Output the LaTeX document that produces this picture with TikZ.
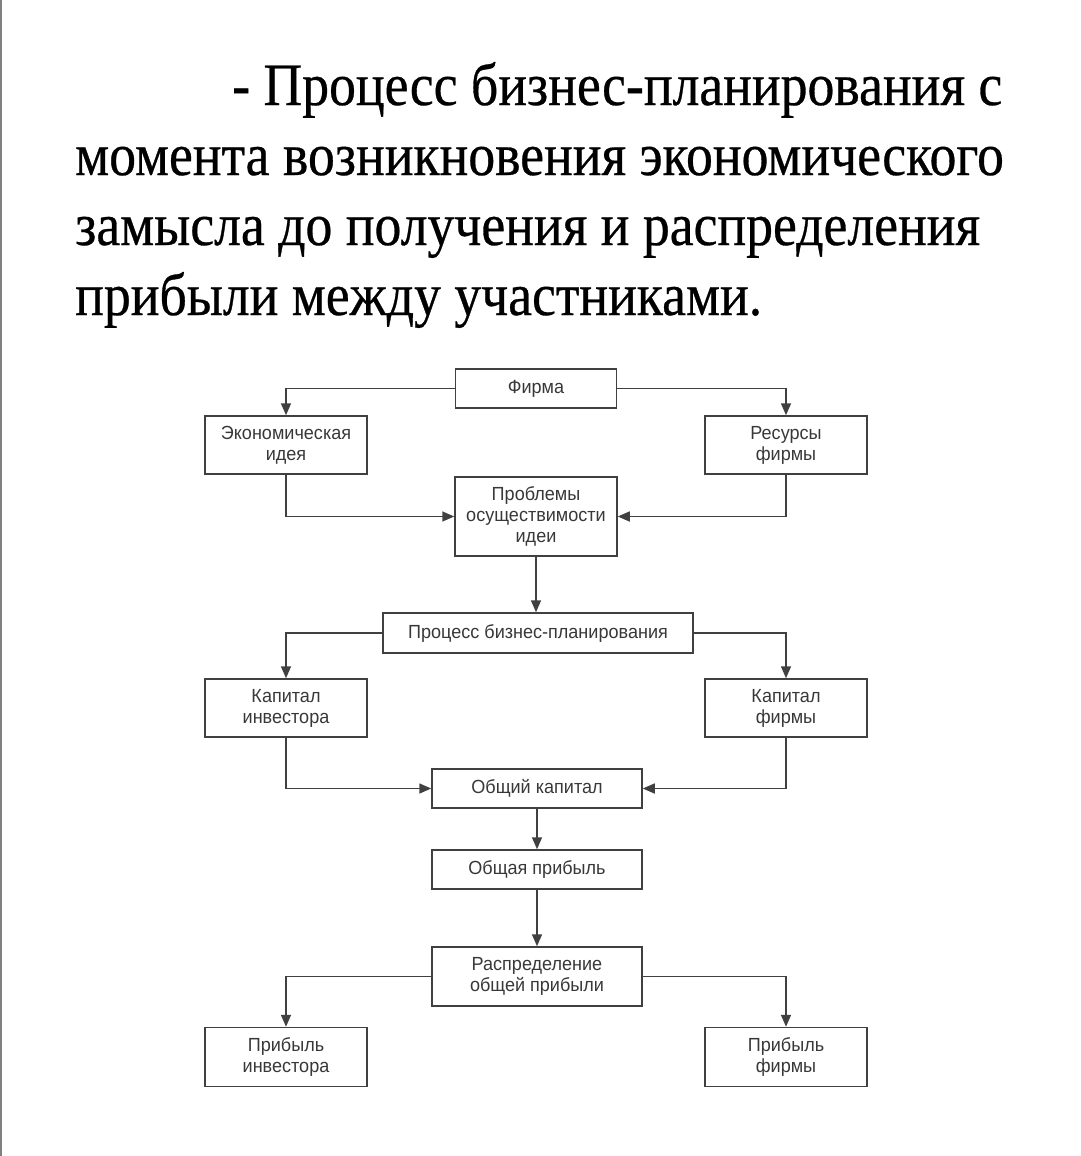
\documentclass[tikz,border=0pt]{standalone}
\usepackage{fontspec}
\setmainfont{Liberation Sans}
\newfontfamily\boxfont[FakeStretch=0.95]{Liberation Sans}
\newfontfamily\titlefont[FakeStretch=0.895,FakeBold=0.5]{Liberation Serif}
\usetikzlibrary{arrows.meta}
\definecolor{ink}{HTML}{383838}
\definecolor{edge}{HTML}{404040}
\tikzset{
  box/.style={draw=edge, line width=1.5pt, text=ink, inner sep=0pt, align=center,
    font=\boxfont\fontsize{19}{21}\selectfont},
  conn/.style={draw=edge, line width=1.6pt, -{Triangle[length=12pt,width=10pt]}},
  titleline/.style={anchor=base west, inner sep=0pt, font=\titlefont\fontsize{60}{70}\selectfont}
}
\begin{document}
\begin{tikzpicture}[x=1pt,y=-1pt]
\useasboundingbox (0,0) rectangle (1080,1156);
\draw[gray, line width=1.5pt] (0.75,0) -- (0.75,1156);
% title
\node[titleline] (t1) at (232,105) {- Процесс бизнес-планирования с};
\node[titleline] (t2) at (75,175) {момента возникновения экономического};
\node[titleline] (t3) at (75,245) {замысла до получения и распределения};
\node[titleline] (t4) at (75,315) {прибыли между участниками.};
% boxes
\node[box, minimum width=161pt, minimum height=39pt] (firm) at (536,388.5) {Фирма};
\node[box, minimum width=162pt, minimum height=58pt] (idea) at (286,445) {Экономическая\\идея};
\node[box, minimum width=162pt, minimum height=58pt] (res) at (786,445) {Ресурсы\\фирмы};
\node[box, minimum width=162pt, minimum height=79pt] (prob) at (536,516.5) {Проблемы\\осуществимости\\идеи};
\node[box, minimum width=310pt, minimum height=40pt] (plan) at (538,633) {Процесс бизнес-планирования};
\node[box, minimum width=162pt, minimum height=58pt] (capi) at (286,708) {Капитал\\инвестора};
\node[box, minimum width=162pt, minimum height=58pt] (capf) at (786,708) {Капитал\\фирмы};
\node[box, minimum width=210pt, minimum height=39pt] (capt) at (537,788.5) {Общий капитал};
\node[box, minimum width=210pt, minimum height=39pt] (prof) at (537,869.5) {Общая прибыль};
\node[box, minimum width=210pt, minimum height=59pt] (dist) at (537,976.5) {Распределение\\общей прибыли};
\node[box, minimum width=162pt, minimum height=59pt] (pri) at (286,1057) {Прибыль\\инвестора};
\node[box, minimum width=162pt, minimum height=59pt] (prf) at (786,1057) {Прибыль\\фирмы};
% connectors
\draw[conn] (firm.west) -| (idea.north);
\draw[conn] (firm.east) -| (res.north);
\draw[conn] (idea.south) |- (prob.west);
\draw[conn] (res.south) |- (prob.east);
\draw[conn] (prob.south) -- (prob.south |- plan.north);
\draw[conn] (plan.west) -| (capi.north);
\draw[conn] (plan.east) -| (capf.north);
\draw[conn] (capi.south) |- (capt.west);
\draw[conn] (capf.south) |- (capt.east);
\draw[conn] (capt.south) -- (prof.north);
\draw[conn] (prof.south) -- (dist.north);
\draw[conn] (dist.west) -| (pri.north);
\draw[conn] (dist.east) -| (prf.north);
\end{tikzpicture}
\end{document}
